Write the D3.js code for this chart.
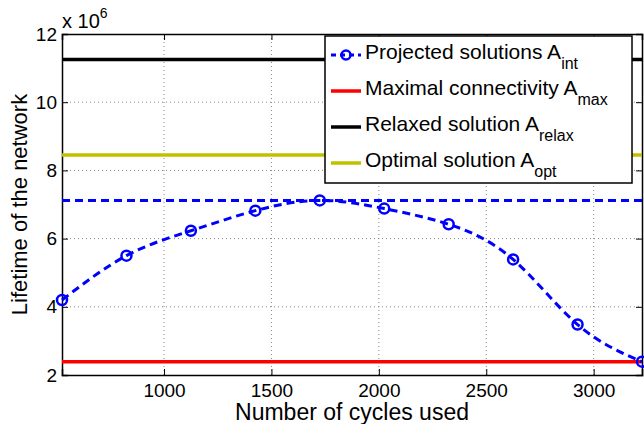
<!DOCTYPE html>
<html lang="en">
<head>
  <meta charset="UTF-8">
  <title>Lifetime of the network</title>
  <script src="https://d3js.org/d3.v7.min.js"></script>
  <style>
    body { margin: 0; background: white; }
    svg { display: block; font-family: "Liberation Sans", Arial, sans-serif; }
    .tick text { font-size: 19px; fill: black; }
    .grid line { stroke: #888; stroke-dasharray: 1,3; }
  </style>
</head>
<body>
  <svg id="chart" width="644" height="424"></svg>

  <script>
    // data, values are in units of 10^6
    const cycles = [525, 825, 1125, 1425, 1725, 2025, 2325, 2625, 2925, 3225];
    const projected = [4.2, 5.5, 6.23, 6.82, 7.12, 6.88, 6.42, 5.39, 3.48, 2.39];
    const projectedMax = 7.12;
    const maxConnectivity = 2.39;
    const relaxed = 11.25;
    const optimal = 8.45;
    const xTicks = [1000, 1500, 2000, 2500, 3000];
    const yTicks = [2, 4, 6, 8, 10, 12];

    const margin = { top: 34, right: 2, bottom: 49, left: 62 };
    const width = 644, height = 424;
    const svg = d3.select("#chart");

    const x = d3.scaleLinear().domain([525, 3225]).range([margin.left, width - margin.right]);
    const y = d3.scaleLinear().domain([2, 12]).range([height - margin.bottom, margin.top]);

    // grid
    svg.append("g").attr("class", "grid")
      .selectAll("line").data(xTicks).join("line")
      .attr("x1", d => x(d)).attr("x2", d => x(d))
      .attr("y1", y(2)).attr("y2", y(12));
    svg.append("g").attr("class", "grid")
      .selectAll("line").data(yTicks.slice(1, -1)).join("line")
      .attr("x1", x(525)).attr("x2", x(3225))
      .attr("y1", d => y(d)).attr("y2", d => y(d));

    // axes, ticks inward on all four sides
    const xAxis = svg.append("g").attr("transform", `translate(0,${y(2)})`)
      .call(d3.axisBottom(x).tickValues(xTicks).tickFormat(d3.format("d")).tickSize(-6).tickPadding(9));
    const xTop = svg.append("g").attr("transform", `translate(0,${y(12)})`)
      .call(d3.axisTop(x).tickValues(xTicks).tickSize(-6).tickFormat(""));
    const yAxis = svg.append("g").attr("transform", `translate(${x(525)},0)`)
      .call(d3.axisLeft(y).tickValues(yTicks).tickSize(-6).tickPadding(5));
    const yRight = svg.append("g").attr("transform", `translate(${x(3225)},0)`)
      .call(d3.axisRight(y).tickValues(yTicks).tickSize(-6).tickFormat(""));
    [xAxis, xTop, yAxis, yRight].forEach(g => {
      g.select(".domain").attr("stroke", "black").attr("stroke-width", 1.5);
      g.selectAll(".tick line").attr("stroke", "black");
    });

    // horizontal reference lines
    const hLines = [
      { v: relaxed, color: "black" },
      { v: optimal, color: "#c0c000" },
      { v: maxConnectivity, color: "red" }
    ];
    svg.append("g").selectAll("line").data(hLines).join("line")
      .attr("x1", x(525)).attr("x2", x(3225))
      .attr("y1", d => y(d.v)).attr("y2", d => y(d.v))
      .attr("stroke", d => d.color).attr("stroke-width", 3.5);

    svg.append("line")
      .attr("x1", x(525)).attr("x2", x(3225))
      .attr("y1", y(projectedMax)).attr("y2", y(projectedMax))
      .attr("stroke", "blue").attr("stroke-width", 3).attr("stroke-dasharray", "8,5");

    // projected solutions
    const pts = cycles.map((c, i) => [c, projected[i]]);
    const line = d3.line().x(d => x(d[0])).y(d => y(d[1])).curve(d3.curveNatural);
    svg.append("path").datum(pts)
      .attr("d", line).attr("fill", "none")
      .attr("stroke", "blue").attr("stroke-width", 3).attr("stroke-dasharray", "8,5");
    svg.append("g").selectAll("circle").data(pts).join("circle")
      .attr("cx", d => x(d[0])).attr("cy", d => y(d[1])).attr("r", 5)
      .attr("fill", "none").attr("stroke", "blue").attr("stroke-width", 2.5);

    // exponent label
    const ex = svg.append("text").attr("x", 62).attr("y", 28).attr("font-size", 20);
    ex.append("tspan").text("x 10");
    ex.append("tspan").attr("dy", -10).attr("font-size", 14).text("6");

    // axis titles
    svg.append("text").attr("x", (x(525) + x(3225)) / 2).attr("y", 420)
      .attr("text-anchor", "middle").attr("font-size", 23).text("Number of cycles used");
    svg.append("text").attr("transform", `translate(27,${(y(2) + y(12)) / 2}) rotate(-90)`)
      .attr("text-anchor", "middle").attr("font-size", 22).text("Lifetime of the network");

    // legend
    const legendItems = [
      { name: "Projected solutions A", sub: "int", color: "blue", dash: true },
      { name: "Maximal connectivity A", sub: "max", color: "red" },
      { name: "Relaxed solution A", sub: "relax", color: "black" },
      { name: "Optimal solution A", sub: "opt", color: "#c0c000" }
    ];
    const lg = svg.append("g");
    lg.append("rect").attr("x", 325).attr("y", 36).attr("width", 307).attr("height", 147)
      .attr("fill", "white").attr("stroke", "black").attr("stroke-width", 1.5);
    const rows = lg.selectAll("g.row").data(legendItems).join("g")
      .attr("transform", (d, i) => `translate(0,${55 + i * 36})`);
    rows.append("line").attr("x1", 331).attr("x2", 361).attr("y1", 0).attr("y2", 0)
      .attr("stroke", d => d.color).attr("stroke-width", d => d.dash ? 3 : 3.5)
      .attr("stroke-dasharray", d => d.dash ? "5,4" : null);
    rows.filter(d => d.dash).append("circle").attr("cx", 346).attr("cy", 0).attr("r", 4.5)
      .attr("fill", "none").attr("stroke", "blue").attr("stroke-width", 2.5);
    const t = rows.append("text").attr("x", 365).attr("y", 3.5).attr("font-size", 21);
    t.append("tspan").text(d => d.name);
    t.append("tspan").attr("dy", 10).attr("font-size", 16).text(d => d.sub);
  </script>
</body>
</html>
